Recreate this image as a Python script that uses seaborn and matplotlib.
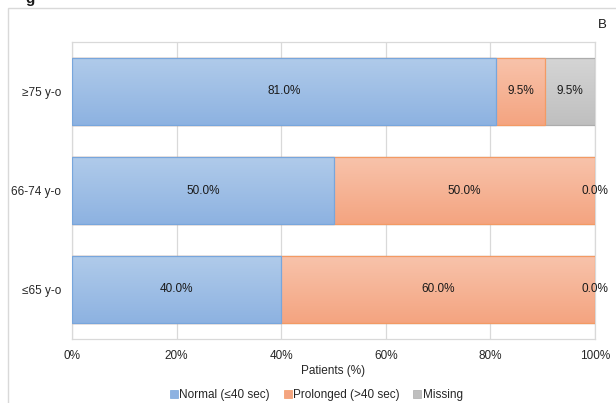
import numpy as np
import pandas as pd
import matplotlib
matplotlib.use("Agg")
import matplotlib.pyplot as plt
from matplotlib.colors import LinearSegmentedColormap
from matplotlib.patches import Rectangle
from matplotlib.lines import Line2D
import seaborn as sns

# Data
categories = ["≥75 y-o", "66-74 y-o", "≤65 y-o"]
normal = [81.0, 50.0, 40.0]
prolonged = [9.5, 50.0, 60.0]
missing = [9.5, 0.0, 0.0]
series_names = ["Normal (≤40 sec)", "Prolonged (>40 sec)", "Missing"]
x_ticks = [0, 20, 40, 60, 80, 100]

sns.set_theme(style="white")
plt.rcParams["font.family"] = ["Liberation Sans", "DejaVu Sans"]
plt.rcParams["font.size"] = 8.5
FS = 8.5

# fill gradients (top colour, bottom colour) and edge colour per series
styles = {
    "Normal (≤40 sec)": ("#b0cbea", "#8db2e1", "#78a6dc"),
    "Prolonged (>40 sec)": ("#f8c3ab", "#f4a480", "#f39a64"),
    "Missing": ("#d5d5d5", "#bfbfbf", "#acacac"),
}

df = pd.DataFrame({"group": categories, "normal": normal,
                   "prolonged": prolonged, "missing": missing})
df["cum_normal"] = df["normal"]
df["cum_prolonged"] = df["normal"] + df["prolonged"]
df["cum_missing"] = df["cum_prolonged"] + df["missing"]

fig = plt.figure(figsize=(6.16, 4.03), dpi=100)
ax = fig.add_axes([72 / 616, 1 - 339 / 403, (595 - 72) / 616, (339 - 42) / 403])

# outer frame of the panel
fig.add_artist(Rectangle((8 / 616, -0.05), 1.2, 1 - 8 / 403 + 0.05,
                         transform=fig.transFigure, fill=False,
                         edgecolor="#d9d9d9", linewidth=1.0))

# stacked bars drawn as overlapping cumulative totals, back to front
layers = [("cum_missing", "Missing"),
          ("cum_prolonged", "Prolonged (>40 sec)"),
          ("cum_normal", "Normal (≤40 sec)")]
grad = np.linspace(0, 1, 256).reshape(-1, 1)
for i, (col, name) in enumerate(layers):
    top_c, bot_c, edge_c = styles[name]
    n_before = len(ax.patches)
    sns.barplot(data=df, y="group", x=col, order=categories, orient="h",
                width=0.667, color=top_c, edgecolor=edge_c, linewidth=0.9,
                ax=ax, errorbar=None)
    cmap = LinearSegmentedColormap.from_list(name, [top_c, bot_c])
    base = 2 + i * 2
    for p in ax.patches[n_before:]:
        p.set_facecolor("none")
        p.set_zorder(base + 1)
        x0, y0 = p.get_x(), p.get_y()
        w, h = p.get_width(), p.get_height()
        if w <= 0:
            continue
        im = ax.imshow(grad, cmap=cmap, aspect="auto",
                       extent=[x0, x0 + w, y0 + h, y0],
                       origin="upper", zorder=base, interpolation="bilinear")
        im.set_clip_path(p)

# value labels centred in each segment
for yi, g in enumerate(categories):
    left = 0.0
    for seg_vals in (normal, prolonged, missing):
        v = seg_vals[yi]
        ax.text(left + v / 2, yi, f"{v:.1f}%", ha="center", va="center",
                fontsize=FS, color="#1a1a1a", zorder=20)
        left += v

ax.set_xlim(0, 100)
ax.set_ylim(2.5, -0.5)
ax.set_xticks(x_ticks)
ax.set_xticklabels([f"{t}%" for t in x_ticks])
ax.grid(axis="x", color="#d9d9d9", linewidth=0.9)
ax.set_axisbelow(True)
ax.tick_params(axis="both", length=0, labelsize=FS, colors="#262626")
ax.tick_params(axis="x", pad=8)
ax.tick_params(axis="y", pad=8)
ax.set_ylabel("")
ax.set_xlabel("Patients (%)", fontsize=FS, color="#262626", labelpad=2)
for s in ax.spines.values():
    s.set_color("#d9d9d9")
    s.set_linewidth(0.9)

# legend with small square markers
handles = [Line2D([], [], marker="s", linestyle="none", markersize=5.5,
                  markerfacecolor=styles[n][1], markeredgecolor=styles[n][2],
                  markeredgewidth=0.5) for n in series_names]
fig.legend(handles, series_names, loc="center", bbox_to_anchor=(316 / 616, 1 - 395 / 403),
           ncol=3, frameon=False, fontsize=FS, handletextpad=0.05,
           columnspacing=1.1, handlelength=0.8, labelcolor="#262626")

fig.text(602 / 616, 1 - 25 / 403, "B", ha="center", va="center",
         fontsize=9.5, color="#1a1a1a")
fig.text(30 / 616, 1 + 1 / 403, "g", ha="center", va="center",
         fontsize=11, fontweight="bold", color="#1a1a1a")

fig.savefig("out.png", dpi=100)
